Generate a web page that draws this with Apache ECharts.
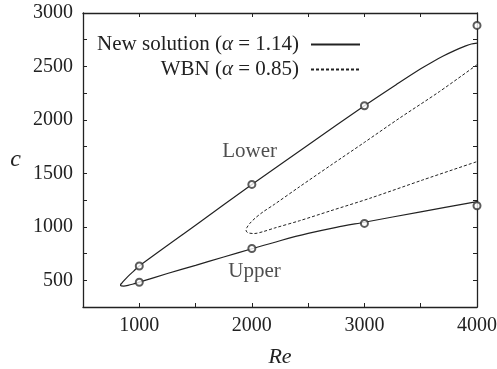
<!DOCTYPE html>
<html>
<head>
<meta charset="utf-8">
<script src="https://cdn.jsdelivr.net/npm/echarts@6/dist/echarts.min.js"></script>
<style>html,body{margin:0;padding:0;background:#fff}#c{width:497px;height:369px}</style>
</head>
<body>
<div id="c"></div>
<script>
// New solution (alpha = 1.14): traced curve, upper-right end -> nose -> lower-right end
var newSolution = [
  [4000, 2719], [3950, 2710], [3900, 2692], [3800, 2648], [3700, 2597], [3600, 2540],
  [3500, 2478], [3300, 2342], [3000, 2132], [2500, 1765], [2000, 1395], [1500, 1015],
  [1000, 634], [950, 586], [900, 537], [868, 502], [845, 474], [833, 456], [840, 447],
  [862, 446], [900, 452], [950, 466], [1000, 482], [1250, 563], [1500, 640],
  [1750, 718], [2000, 795], [2250, 870], [2500, 938], [2750, 995], [3000, 1043],
  [3500, 1140], [4000, 1236]
];
// WBN (alpha = 0.85)
var wbn = [
  [4000, 2516], [3668, 2266], [3311, 2016], [3000, 1790], [2700, 1575], [2424, 1375],
  [2200, 1210], [2100, 1140], [2030, 1082], [1982, 1032], [1957, 995], [1948, 970],
  [1955, 952], [1978, 941], [2020, 937], [2100, 955], [2200, 988], [2424, 1057],
  [2700, 1150], [3046, 1266], [3517, 1438], [4000, 1610]
];
// Circles
var points = [
  [1000, 634], [1000, 482], [2000, 1397], [2000, 797],
  [3000, 2132], [3000, 1032], [4000, 2884], [4000, 1197]
];
var annotations = [
  {name: 'Lower', value: [1980, 1700]},
  {name: 'Upper', value: [2024, 582]}
];
var xLabels = [1000, 2000, 3000, 4000];
var yLabels = [500, 1000, 1500, 2000, 2500, 3000];
var seriesNames = ['New solution (α = 1.14)', 'WBN (α = 0.85)'];

var FONT = "'Liberation Serif', 'Times New Roman', serif";
var INK = '#222';
var chart = echarts.init(document.getElementById('c'), null, {renderer: 'canvas'});

function xAxisDef(pos, showLabel) {
  return {
    type: 'value', position: pos, min: 500, max: 4000, interval: 500,
    axisLine: {show: true, onZero: false, lineStyle: {color: INK, width: 1.3}},
    axisTick: {show: true, inside: true, length: 4, lineStyle: {color: INK, width: 1}},
    splitLine: {show: false},
    axisLabel: {
      show: showLabel, margin: 9, color: INK, fontFamily: FONT, fontSize: 20,
      formatter: function (v) { return xLabels.indexOf(v) >= 0 ? String(v) : ''; }
    }
  };
}
function yAxisDef(pos, showLabel) {
  return {
    type: 'value', position: pos, min: 250, max: 3000, interval: 250,
    axisLine: {show: true, onZero: false, lineStyle: {color: INK, width: 1.3}},
    axisTick: {show: true, inside: true, length: 4, lineStyle: {color: INK, width: 1}},
    splitLine: {show: false},
    axisLabel: {
      show: showLabel, margin: 10, color: INK, fontFamily: FONT, fontSize: 20,
      formatter: function (v) { return yLabels.indexOf(v) >= 0 ? String(v) : ''; }
    }
  };
}

var xb = xAxisDef('bottom', true);
xb.name = 'Re'; xb.nameLocation = 'middle'; xb.nameGap = 39;
xb.nameTextStyle = {fontFamily: FONT, fontSize: 22, fontStyle: 'italic', color: INK};
var xt = xAxisDef('top', false);
var yl = yAxisDef('left', true);
yl.name = 'c'; yl.nameLocation = 'middle'; yl.nameGap = 62; yl.nameRotate = 0;
yl.nameTextStyle = {fontFamily: FONT, fontSize: 24, fontStyle: 'italic', color: INK, padding: [6, 0, 0, 0]};
var yr = yAxisDef('right', false);

chart.setOption({
  animation: false,
  backgroundColor: '#fff',
  grid: {left: 83, right: 20, top: 13, bottom: 62, containLabel: false, outerBoundsMode: 'none'},
  xAxis: [xb, xt],
  yAxis: [yl, yr],
  legend: {
    data: seriesNames,
    orient: 'vertical', align: 'right',
    right: 136, top: 34, padding: 0,
    itemWidth: 49, itemHeight: 14, itemGap: 4,
    itemStyle: {opacity: 0},
    textStyle: {fontFamily: FONT, fontSize: 21, color: INK, padding: [0, 7, 0, 0],
      rich: {i: {fontFamily: FONT, fontSize: 21, fontStyle: 'italic', color: INK}}},
    formatter: function (n) { return n.replace('α', '{i|α}'); }
  },
  series: [
    {
      name: seriesNames[0], type: 'line', data: newSolution, smooth: 0.3,
      symbol: 'none', xAxisIndex: 0, yAxisIndex: 0,
      lineStyle: {color: INK, width: 1.2, type: 'solid'}, itemStyle: {color: INK}
    },
    {
      name: seriesNames[1], type: 'line', data: wbn, smooth: 0.3,
      symbol: 'none', xAxisIndex: 0, yAxisIndex: 0,
      lineStyle: {color: INK, width: 1, type: [3, 2]}, itemStyle: {color: INK}
    },
    {
      name: 'points', type: 'scatter', data: points, symbol: 'emptyCircle', symbolSize: 7,
      itemStyle: {color: '#333', borderColor: '#333', borderWidth: 1}, z: 5
    },
    {
      name: 'labels', type: 'scatter', data: annotations, symbolSize: 0,
      label: {show: true, position: 'inside', formatter: '{b}', fontFamily: FONT,
        fontSize: 21, color: INK}
    }
  ]
});
</script>
</body>
</html>
